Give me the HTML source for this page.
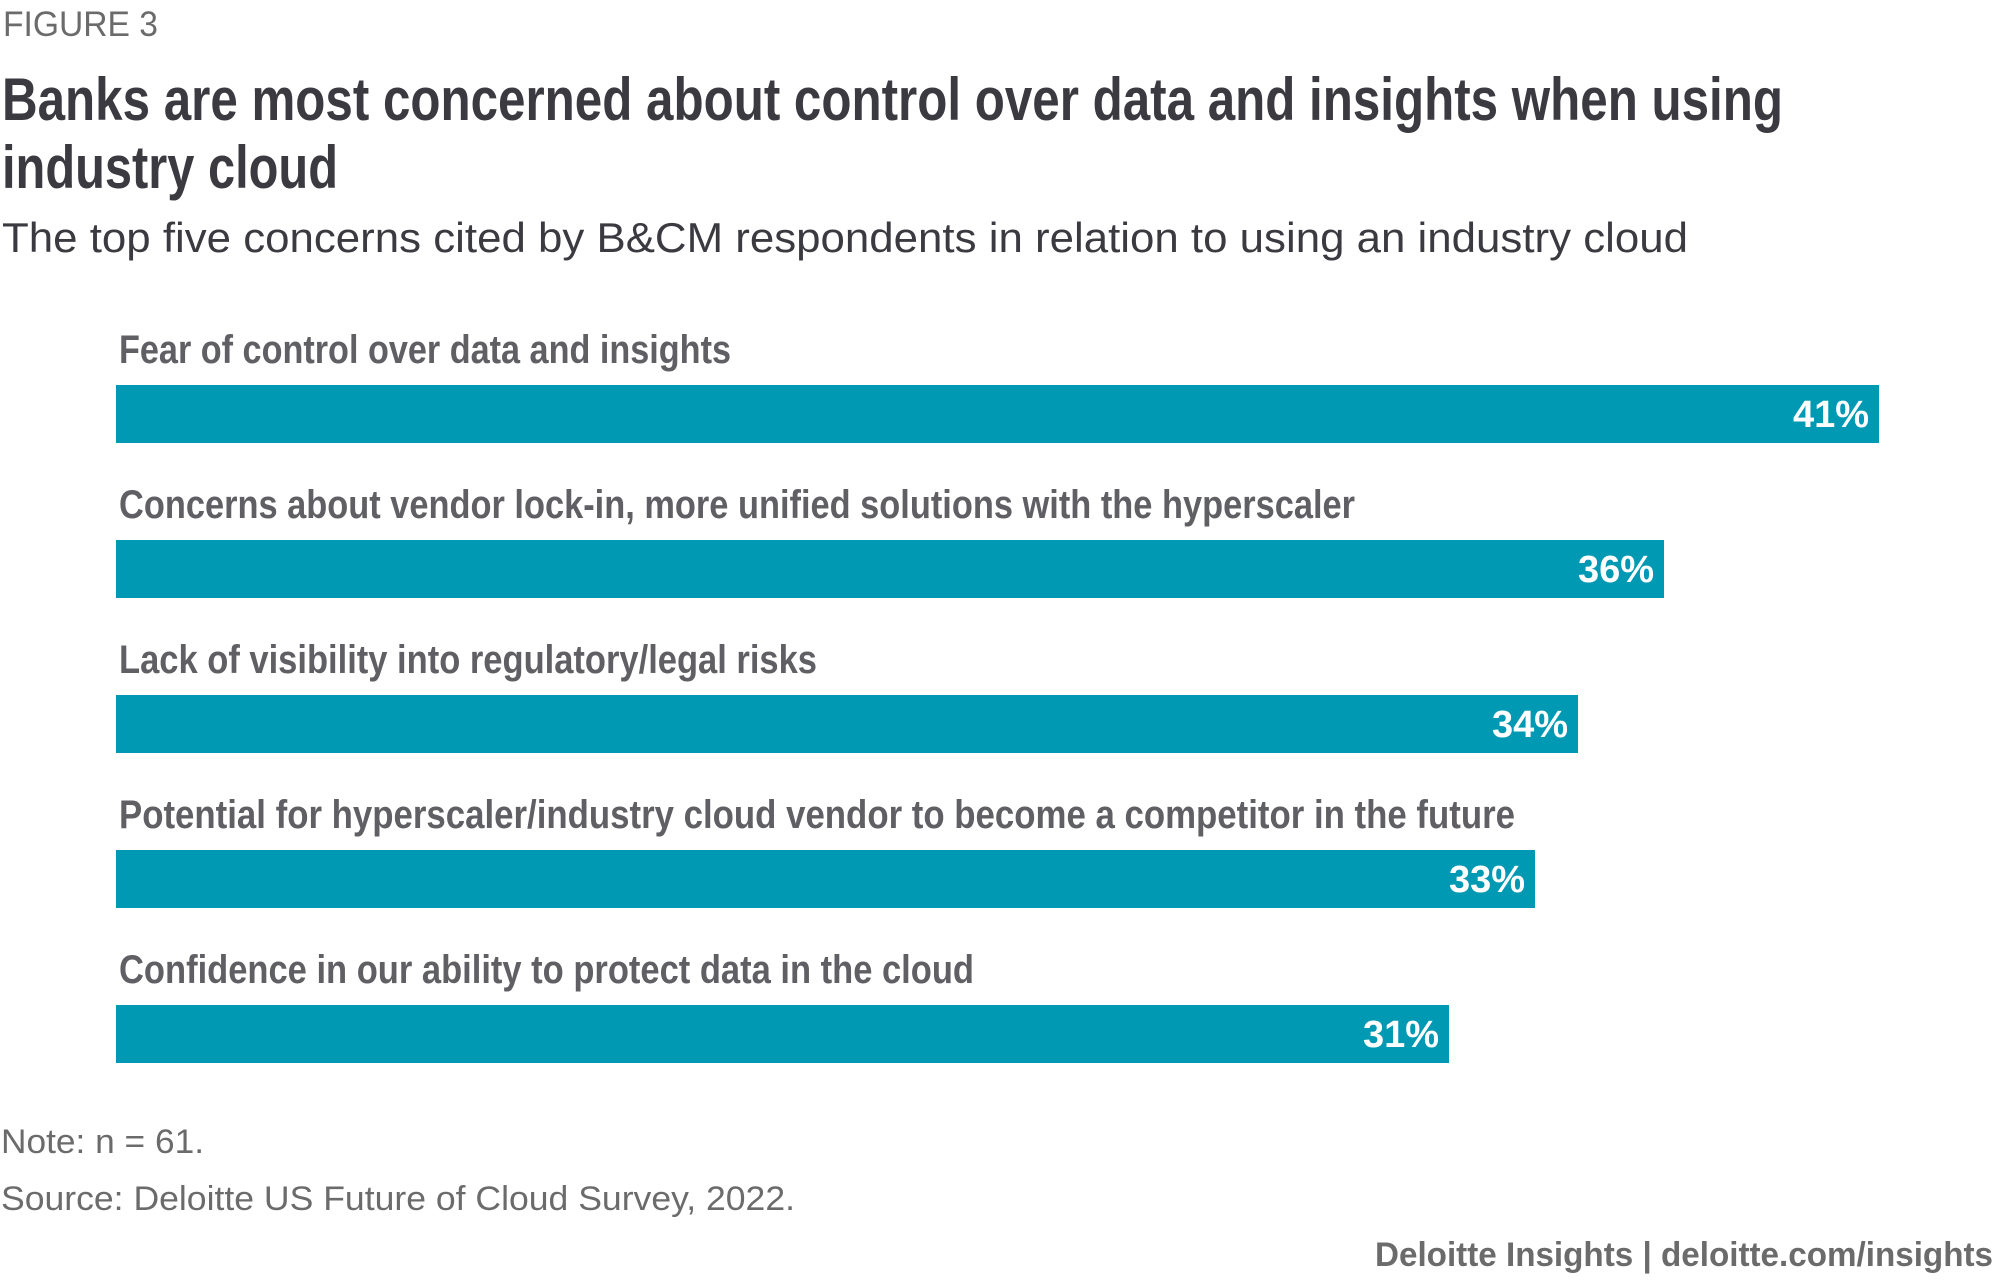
<!DOCTYPE html>
<html><head><meta charset="utf-8"><style>
html,body{margin:0;padding:0;background:#fff;}
svg{display:block;}
text{font-family:"Liberation Sans Narrow","Liberation Sans",sans-serif;}
</style></head><body>
<svg id="chart" width="2000" height="1282" viewBox="0 0 2000 1282">
<text x="3" y="36" font-size="35" fill="#6b6b6b" textLength="155" lengthAdjust="spacingAndGlyphs" style="font-family:'Liberation Sans',sans-serif">FIGURE 3</text>
<text x="2" y="120" font-size="60" font-weight="bold" fill="#3a3a40" textLength="1781" lengthAdjust="spacingAndGlyphs">Banks are most concerned about control over data and insights when using</text>
<text x="2" y="188" font-size="60" font-weight="bold" fill="#3a3a40" textLength="336" lengthAdjust="spacingAndGlyphs">industry cloud</text>
<text x="2" y="252" font-size="42" fill="#3a3a40" textLength="1686" lengthAdjust="spacingAndGlyphs" style="font-family:'Liberation Sans',sans-serif">The top five concerns cited by B&amp;CM respondents in relation to using an industry cloud</text>
<g id="bars"></g>
<text x="1" y="1153" font-size="34" fill="#6b6b6b" textLength="203" lengthAdjust="spacingAndGlyphs" style="font-family:'Liberation Sans',sans-serif">Note: n = 61.</text>
<text x="1" y="1210" font-size="34" fill="#6b6b6b" textLength="794" lengthAdjust="spacingAndGlyphs" style="font-family:'Liberation Sans',sans-serif">Source: Deloitte US Future of Cloud Survey, 2022.</text>
<text x="1375" y="1266" font-size="34" font-weight="bold" fill="#6b6b6b" textLength="618" lengthAdjust="spacingAndGlyphs" style="font-family:'Liberation Sans',sans-serif">Deloitte Insights | deloitte.com/insights</text>
</svg>
<script>
const categories = ["Fear of control over data and insights","Concerns about vendor lock-in, more unified solutions with the hyperscaler","Lack of visibility into regulatory/legal risks","Potential for hyperscaler/industry cloud vendor to become a competitor in the future","Confidence in our ability to protect data in the cloud"];
const values = [41,36,34,33,31];
const valueLabels = ["41%","36%","34%","33%","31%"];
const labelWidths = [612,1236,698,1396,855];

const NS="http://www.w3.org/2000/svg";
const g=document.getElementById('bars');
const x0=116, pxPer=(1879-116)/41;
function xScale(v){return x0+v*pxPer;}
function yScale(i){return 385+i*155;}
const barH=58;
categories.forEach((c,i)=>{
  const y=yScale(i);
  const lab=document.createElementNS(NS,'text');
  
  
  lab.setAttribute('x',119);lab.setAttribute('y',y-22);
  lab.setAttribute('font-size','40');lab.setAttribute('font-weight','bold');lab.setAttribute('fill','#5f5f64');
  lab.setAttribute('textLength',labelWidths[i]);lab.setAttribute('lengthAdjust','spacingAndGlyphs');
  lab.textContent=c;g.appendChild(lab);
  const r=document.createElementNS(NS,'rect');
  
  
  r.setAttribute('x',x0);r.setAttribute('y',y);r.setAttribute('width',xScale(values[i])-x0);r.setAttribute('height',barH);
  r.setAttribute('fill','#0099b4');g.appendChild(r);
  const v=document.createElementNS(NS,'text');
  
  
  v.setAttribute('x',xScale(values[i])-10);v.setAttribute('y',y+42);
  v.setAttribute('text-anchor','end');v.setAttribute('font-size','38');v.setAttribute('font-weight','bold');v.setAttribute('fill','#ffffff');
  v.setAttribute('style',"font-family:'Liberation Sans',sans-serif");
  v.textContent=valueLabels[i];g.appendChild(v);
});
</script>
</body></html>
